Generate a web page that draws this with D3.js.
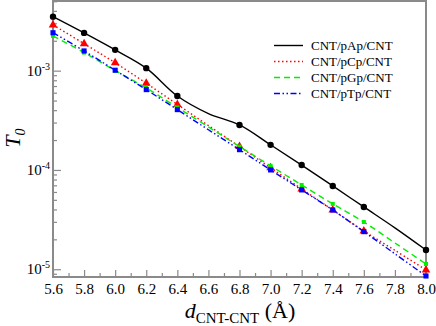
<!DOCTYPE html>
<html>
<head>
<meta charset="utf-8">
<script src="https://cdn.jsdelivr.net/npm/d3@7"></script>
<style>
  body { margin: 0; background: #fff; }
  text { font-family: "Liberation Serif", "DejaVu Serif", serif; fill: #000; }
</style>
</head>
<body>
<svg id="chart" width="436" height="326"></svg>
<script>
// distances in angstrom, transmission T0 for each junction
var distances = [5.6, 5.8, 6.0, 6.2, 6.4, 6.6, 6.8, 7.0, 7.2, 7.4, 7.6, 7.8, 8.0]
var markedDistances = [5.6, 5.8, 6.0, 6.2, 6.4, 6.8, 7.0, 7.2, 7.4, 7.6, 8.0]
var seriesNames = ['CNT/pAp/CNT', 'CNT/pCp/CNT', 'CNT/pGp/CNT', 'CNT/pTp/CNT']
var pAp = [3.50e-3, 2.40e-3, 1.62e-3, 1.06e-3, 5.56e-4, 3.70e-4, 2.84e-4, 1.79e-4, 1.12e-4, 6.9e-5, 4.24e-5, 2.61e-5, 1.56e-5]
var pCp = [2.89e-3, 1.87e-3, 1.20e-3, 7.47e-4, 4.57e-4, 2.80e-4, 1.72e-4, 1.05e-4, 6.44e-5, 3.95e-5, 2.43e-5, 1.55e-5, 9.84e-6]
var pGp = [2.24e-3, 1.52e-3, 1.00e-3, 6.70e-4, 4.26e-4, 2.71e-4, 1.72e-4, 1.10e-4, 7.06e-5, 4.55e-5, 2.99e-5, 1.84e-5, 1.13e-5]
var pTp = [2.41e-3, 1.58e-3, 1.01e-3, 6.44e-4, 4.05e-4, 2.54e-4, 1.60e-4, 1.00e-4, 6.29e-5, 3.95e-5, 2.39e-5, 1.43e-5, 8.55e-6]
var xTicks = [5.6, 5.8, 6.0, 6.2, 6.4, 6.6, 6.8, 7.0, 7.2, 7.4, 7.6, 7.8, 8.0]
var xMinorTicks = [5.7, 5.9, 6.1, 6.3, 6.5, 6.7, 6.9, 7.1, 7.3, 7.5, 7.7, 7.9]
var yTicks = [1e-5, 1e-4, 1e-3]
var yTickExponents = ['-5', '-4', '-3']

var plotLeft = 53
var plotRight = 426
var plotTop = 1
var plotBottom = 277
var axisColor = '#8a8a8a'

var svg = d3.select('#chart')

var x = d3.scaleLinear().domain([5.6, 8.0]).range([plotLeft, plotRight])
var y = d3.scaleLog().domain([8.35e-6, 5.03e-3]).range([plotBottom, plotTop])

var styles = [
  { color: '#000000', dash: null, symbol: d3.symbolCircle, size: 32 },
  { color: '#ff0000', dash: '1.5,2.5', symbol: d3.symbolTriangle, size: 32 },
  { color: '#00ee00', dash: '6,4', symbol: d3.symbolSquare, size: 16 },
  { color: '#0000ff', dash: '6,2.5,1.5,2.5,1.5,2.5', symbol: d3.symbolSquare, size: 26 }
]
var allSeries = [pAp, pCp, pGp, pTp]

// minor y ticks 2..9 in each decade inside the domain
var yMinor = []
;[1e-6, 1e-5, 1e-4, 1e-3].forEach(function (d) {
  for (var k = 2; k <= 9; k++) {
    var v = d * k
    if (v > y.domain()[0] && v < y.domain()[1]) yMinor.push(v)
  }
})

// axes
var xAxis = svg.append('g').attr('transform', 'translate(0,' + plotBottom + ')')
  .call(d3.axisBottom(x).tickValues(xTicks).tickSize(-7).tickFormat(d3.format('.1f')))
xAxis.append('g').call(d3.axisBottom(x).tickValues(xMinorTicks).tickSize(-4).tickFormat(''))
xAxis.selectAll('.domain').remove()
xAxis.selectAll('line').attr('stroke', axisColor).attr('stroke-width', 1.2)
xAxis.selectAll('text')
  .attr('y', 17).attr('dy', null)
  .style('font-size', '15px').style('font-family', '"Liberation Serif", serif').attr('fill', '#000')

var yAxis = svg.append('g').attr('transform', 'translate(' + plotLeft + ',0)')
  .call(d3.axisLeft(y).tickValues(yTicks).tickSize(-8).tickFormat(''))
yAxis.append('g').call(d3.axisLeft(y).tickValues(yMinor).tickSize(-4).tickFormat(''))
yAxis.selectAll('.domain').remove()
yAxis.selectAll('line').attr('stroke', axisColor).attr('stroke-width', 1.2)

var yLabels = svg.append('g').selectAll('text').data(yTicks).enter().append('text')
  .attr('x', plotLeft - 3)
  .attr('y', function (d) { return y(d) + 5 })
  .attr('text-anchor', 'end')
  .style('font-size', '15px')
yLabels.append('tspan').text('10')
yLabels.append('tspan')
  .attr('dy', -6)
  .style('font-size', '10px')
  .text(function (d, i) { return yTickExponents[i] })

// frame
svg.append('rect')
  .attr('x', plotLeft).attr('y', plotTop)
  .attr('width', plotRight - plotLeft).attr('height', plotBottom - plotTop)
  .attr('fill', 'none').attr('stroke', axisColor).attr('stroke-width', 2)

// curves
var line = d3.line()
  .x(function (d) { return x(d[0]) })
  .y(function (d) { return y(d[1]) })
  .curve(d3.curveCatmullRom.alpha(0.5))

allSeries.forEach(function (values, i) {
  var pts = distances.map(function (d, j) { return [d, values[j]] })
  svg.append('path')
    .datum(pts)
    .attr('d', line)
    .attr('fill', 'none')
    .attr('stroke', styles[i].color)
    .attr('stroke-width', 1.4)
    .attr('stroke-dasharray', styles[i].dash)

  var marked = pts.filter(function (p) { return markedDistances.indexOf(p[0]) >= 0 })
  svg.append('g').selectAll('path').data(marked).enter().append('path')
    .attr('d', d3.symbol().type(styles[i].symbol).size(styles[i].size))
    .attr('transform', function (p) { return 'translate(' + x(p[0]) + ',' + y(p[1]) + ')' })
    .attr('fill', styles[i].color)
})

// legend
var legend = svg.append('g').selectAll('g').data(seriesNames).enter().append('g')
  .attr('transform', function (d, i) { return 'translate(274,' + (45.5 + i * 16) + ')' })
legend.append('line')
  .attr('x1', 0).attr('x2', 29)
  .attr('stroke', function (d, i) { return styles[i].color })
  .attr('stroke-width', 1.4)
  .attr('stroke-dasharray', function (d, i) { return styles[i].dash })
legend.append('text')
  .attr('x', 37).attr('y', 4.5)
  .style('font-size', '13px')
  .text(function (d) { return d })

// axis titles
var xTitle = svg.append('text')
  .attr('x', 240).attr('y', 318)
  .attr('text-anchor', 'middle')
  .style('font-size', '22px')
xTitle.append('tspan').style('font-style', 'italic').text('d')
xTitle.append('tspan').attr('dy', 5).style('font-size', '15px').text('CNT-CNT')
xTitle.append('tspan').attr('dy', -5).text(' (Å)')

var yTitle = svg.append('text')
  .attr('transform', 'translate(20,' + 138 + ') rotate(-90)')
  .attr('text-anchor', 'middle')
  .style('font-size', '22px')
  .style('font-style', 'italic')
yTitle.append('tspan').text('T')
yTitle.append('tspan').attr('dy', 5).style('font-size', '14px').text('0')
</script>
</body>
</html>
